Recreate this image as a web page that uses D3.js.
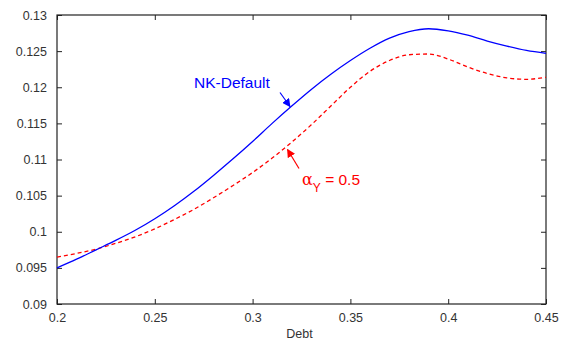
<!DOCTYPE html>
<html>
<head>
<meta charset="utf-8">
<script src="https://cdn.jsdelivr.net/npm/d3@7"></script>
<style>
  html, body { margin: 0; padding: 0; background: #fff; }
  svg { display: block; font-family: "Liberation Sans", Arial, sans-serif; }
</style>
</head>
<body>
<svg id="chart" width="563" height="343"></svg>
<script>
const debt = [0.20,0.21,0.22,0.23,0.24,0.25,0.26,0.27,0.28,0.29,0.30,0.31,0.32,0.33,0.34,0.35,0.36,0.37,0.38,0.39,0.40,0.41,0.42,0.43,0.44,0.45];
const nkDefault = [0.0950,0.0962,0.0975,0.0988,0.1002,0.1018,0.1036,0.1056,0.1078,0.1101,0.1125,0.1150,0.1174,0.1197,0.1218,0.1237,0.1254,0.1268,0.1277,0.1281,0.1278,0.1272,0.1264,0.1257,0.1251,0.1247];
const alphaY05 = [0.0965,0.0970,0.0976,0.0984,0.0993,0.1004,0.1017,0.1031,0.1047,0.1064,0.1082,0.1102,0.1124,0.1148,0.1174,0.1200,0.1222,0.1237,0.1245,0.1246,0.1239,0.1228,0.1219,0.1213,0.1211,0.1214];
const xTicks = [0.2,0.25,0.3,0.35,0.4,0.45];
const xTickLabels = ["0.2","0.25","0.3","0.35","0.4","0.45"];
const yTicks = [0.09,0.095,0.1,0.105,0.11,0.115,0.12,0.125,0.13];
const yTickLabels = ["0.09","0.095","0.1","0.105","0.11","0.115","0.12","0.125","0.13"];
const xLabel = "Debt";

const W = 563, H = 343;
const m = {left: 57, top: 15, right: 17, bottom: 39};
const svg = d3.select("#chart");
const x = d3.scaleLinear().domain([0.2, 0.45]).range([m.left, W - m.right]);
const y = d3.scaleLinear().domain([0.09, 0.13]).range([H - m.bottom, m.top]);

const axisColor = "#222";
const textColor = "#333";
const tickLen = 5;

function styleAxis(g) {
  g.select(".domain").remove();
  g.selectAll(".tick line").attr("stroke", axisColor).attr("stroke-width", 1);
  g.selectAll(".tick text").attr("fill", textColor).style("font-size", "12.5px").style("font-family", "'Liberation Sans', Arial, sans-serif");
}

svg.append("g").attr("transform", `translate(0,${H - m.bottom})`)
  .call(d3.axisBottom(x).tickValues(xTicks).tickFormat((d,i)=>xTickLabels[i]).tickSizeInner(-tickLen).tickSizeOuter(0).tickPadding(9))
  .call(styleAxis);
svg.append("g").attr("transform", `translate(0,${m.top})`)
  .call(d3.axisTop(x).tickValues(xTicks).tickFormat("").tickSizeInner(-tickLen).tickSizeOuter(0))
  .call(styleAxis);
svg.append("g").attr("transform", `translate(${m.left},0)`)
  .call(d3.axisLeft(y).tickValues(yTicks).tickFormat((d,i)=>yTickLabels[i]).tickSizeInner(-tickLen).tickSizeOuter(0).tickPadding(10))
  .call(styleAxis);
svg.append("g").attr("transform", `translate(${W - m.right},0)`)
  .call(d3.axisRight(y).tickValues(yTicks).tickFormat("").tickSizeInner(-tickLen).tickSizeOuter(0))
  .call(styleAxis);

svg.append("rect")
  .attr("x", m.left).attr("y", m.top)
  .attr("width", W - m.left - m.right).attr("height", H - m.top - m.bottom)
  .attr("fill", "none").attr("stroke", axisColor).attr("stroke-width", 1.2);

svg.append("text")
  .attr("x", (m.left + W - m.right) / 2 - 2).attr("y", H - 5)
  .attr("text-anchor", "middle").attr("fill", textColor)
  .style("font-size", "12.5px").text(xLabel);

const line = d3.line().curve(d3.curveMonotoneX)
  .x(d => x(d[0])).y(d => y(d[1]));

svg.append("path")
  .datum(debt.map((d,i)=>[d, alphaY05[i]]))
  .attr("d", line).attr("fill", "none")
  .attr("stroke", "#ff0000").attr("stroke-width", 1.3)
  .attr("stroke-dasharray", "4,3");

svg.append("path")
  .datum(debt.map((d,i)=>[d, nkDefault[i]]))
  .attr("d", line).attr("fill", "none")
  .attr("stroke", "#0000ff").attr("stroke-width", 1.3);

const defs = svg.append("defs");
function marker(id, color) {
  defs.append("marker").attr("id", id)
    .attr("viewBox", "0 0 10 10").attr("refX", 9).attr("refY", 5)
    .attr("markerWidth", 7).attr("markerHeight", 7)
    .attr("orient", "auto")
    .append("path").attr("d", "M0,0 L10,5 L0,10 Z").attr("fill", color);
}
marker("arrB", "#0000ff");
marker("arrR", "#ff0000");

svg.append("text")
  .attr("x", 194).attr("y", 87.5)
  .attr("fill", "#0000ff").style("font-size", "15.5px")
  .text("NK-Default");
svg.append("line")
  .attr("x1", 280).attr("y1", 92.5).attr("x2", 290).attr("y2", 106.5)
  .attr("stroke", "#0000ff").attr("stroke-width", 1.2)
  .attr("marker-end", "url(#arrB)");

const t = svg.append("text")
  .attr("x", 302).attr("y", 184.5)
  .attr("fill", "#ff0000").style("font-size", "15.5px");
t.append("tspan").style("font-family", "'DejaVu Serif', 'Liberation Serif', serif").style("font-size", "16px").text("α");
t.append("tspan").attr("dy", 7).style("font-size", "12px").text("Y");
t.append("tspan").attr("dy", -7).text(" = 0.5");
svg.append("line")
  .attr("x1", 299).attr("y1", 168.5).attr("x2", 287.5).attr("y2", 149.5)
  .attr("stroke", "#ff0000").attr("stroke-width", 1.2)
  .attr("marker-end", "url(#arrR)");
</script>
</body>
</html>
